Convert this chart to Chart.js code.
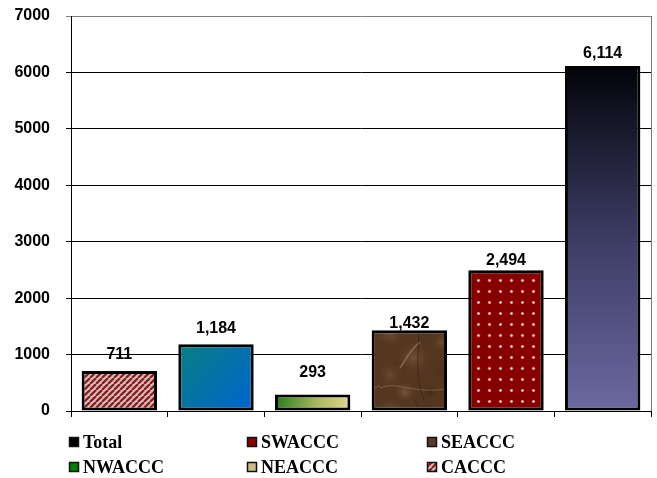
<!DOCTYPE html>
<html>
<head>
<meta charset="utf-8">
<script src="https://cdn.jsdelivr.net/npm/chart.js@4.4.0/dist/chart.umd.min.js"></script>
<style>
body { margin: 0; background: #fff; }
canvas { display: block; }
</style>
</head>
<body>
<canvas id="barChart" width="657" height="478"></canvas>
<script>
/* Data */
const regions = ["CACCC", "NEACCC", "NWACCC", "SEACCC", "SWACCC", "Total"];
const counts = [711, 1184, 293, 1432, 2494, 6114];
const yTicks = [0, 1000, 2000, 3000, 4000, 5000, 6000, 7000];
const legendOrder = ["Total", "SWACCC", "SEACCC", "NWACCC", "NEACCC", "CACCC"];

/* Styles */
const labelGap = [12, 11, 17, 2, 5, 8]; // label baseline distance above bar
const swatch = {
  Total: "#000000",
  SWACCC: "#8b0000",
  SEACCC: "#5a3b2a",
  NWACCC: "#008000",
  NEACCC: "#cbbd83",
};

// Patterns
function makeStripes() {
  const n = 6;
  const c = document.createElement("canvas");
  c.width = n; c.height = n;
  const g = c.getContext("2d");
  g.fillStyle = "#cdc7c7";
  g.fillRect(0, 0, n, n);
  g.strokeStyle = "#951a1a";
  g.lineWidth = 2.3;
  [0, n, 2 * n].forEach(function (s) {
    g.beginPath();
    g.moveTo(s - n, n);
    g.lineTo(s, 0);
    g.stroke();
  });
  return g.createPattern(c, "repeat");
}

function makeDots() {
  const c = document.createElement("canvas");
  c.width = 11; c.height = 11;
  const g = c.getContext("2d");
  g.fillStyle = "#870000";
  g.fillRect(0, 0, 11, 11);
  g.fillStyle = "rgba(255,180,180,0.45)";
  g.beginPath(); g.arc(5.5, 5.5, 1.8, 0, Math.PI * 2); g.fill();
  g.fillStyle = "#ffffff";
  g.beginPath(); g.arc(5.5, 5.5, 1, 0, Math.PI * 2); g.fill();
  return g.createPattern(c, "repeat");
}

function makeMarble() {
  const c = document.createElement("canvas");
  c.width = 76; c.height = 80;
  const g = c.getContext("2d");
  g.fillStyle = "#553720";
  g.fillRect(0, 0, 76, 80);
  const spots = [[10, 12, 16, "rgba(130,92,60,0.7)"], [45, 10, 14, "rgba(70,45,28,0.8)"],
    [34, 38, 18, "rgba(140,105,75,0.5)"], [60, 50, 14, "rgba(75,48,30,0.8)"],
    [10, 55, 14, "rgba(120,85,55,0.6)"], [25, 72, 12, "rgba(150,115,80,0.55)"],
    [62, 22, 10, "rgba(125,90,60,0.6)"], [50, 72, 10, "rgba(60,38,22,0.8)"]];
  spots.forEach(function (s) {
    const r = g.createRadialGradient(s[0], s[1], 0, s[0], s[1], s[2]);
    r.addColorStop(0, s[3]);
    r.addColorStop(1, "rgba(85,55,32,0)");
    g.fillStyle = r;
    g.fillRect(0, 0, 76, 80);
  });
  g.strokeStyle = "rgba(200,170,135,0.35)";
  g.lineWidth = 2;
  g.beginPath(); g.moveTo(20, 48); g.bezierCurveTo(28, 36, 30, 30, 40, 22); g.stroke();
  g.lineWidth = 1;
  g.beginPath(); g.moveTo(0, 68); g.bezierCurveTo(20, 60, 40, 78, 76, 66); g.stroke();
  g.strokeStyle = "rgba(40,25,15,0.5)";
  g.beginPath(); g.moveTo(35, 0); g.bezierCurveTo(45, 20, 30, 45, 44, 80); g.stroke();
  return g.createPattern(c, "repeat");
}

const stripePattern = makeStripes();
const dotPattern = makeDots();
const marblePattern = makeMarble();

function barFill(context) {
  const chart = context.chart;
  if (context.type !== "data" || !chart.chartArea) return "#888";
  const i = context.dataIndex;
  const x = chart.scales.x.getPixelForValue(i);
  const top = chart.scales.y.getPixelForValue(counts[i]);
  const base = chart.scales.y.getPixelForValue(0);
  const c = chart.ctx;
  let grad;
  switch (regions[i]) {
    case "CACCC": return stripePattern;
    case "SWACCC": return dotPattern;
    case "SEACCC": return marblePattern;
    case "NEACCC":
      grad = c.createLinearGradient(x - 38, top, x + 38, base);
      grad.addColorStop(0, "#078080");
      grad.addColorStop(1, "#0064d2");
      return grad;
    case "NWACCC":
      grad = c.createLinearGradient(x - 38, top, x + 38, base);
      grad.addColorStop(0, "#1f7a1a");
      grad.addColorStop(0.55, "#a8b860");
      grad.addColorStop(1, "#e6d890");
      return grad;
    default:
      grad = c.createLinearGradient(0, top, 0, base);
      grad.addColorStop(0, "#03030a");
      grad.addColorStop(0.5, "#3c3c64");
      grad.addColorStop(1, "#6a6aa2");
      return grad;
  }
}

/* Plugins */
const valueLabels = {
  id: "valueLabels",
  afterDatasetsDraw(chart) {
    const c = chart.ctx;
    const meta = chart.getDatasetMeta(0);
    c.save();
    c.font = "bold 16px 'Liberation Sans', Arial, sans-serif";
    c.fillStyle = "#000";
    c.textAlign = "center";
    c.textBaseline = "alphabetic";
    meta.data.forEach(function (bar, i) {
      c.fillText(counts[i].toLocaleString("en-US"), bar.x, bar.y - labelGap[i]);
    });
    c.restore();
  },
};

const frameAndLegend = {
  id: "frameAndLegend",
  afterDraw(chart) {
    const c = chart.ctx;
    const a = chart.chartArea;
    c.save();
    // right edge of the plot
    c.strokeStyle = "#777";
    c.lineWidth = 1;
    c.beginPath();
    c.moveTo(Math.round(a.right) + 0.5, a.top);
    c.lineTo(Math.round(a.right) + 0.5, a.bottom);
    c.stroke();

    // legend, 3 columns x 2 rows
    const colX = [69, 247, 427];
    const rowY = [442, 467];
    c.font = "bold 18px 'Liberation Serif', 'Times New Roman', serif";
    c.textBaseline = "middle";
    c.textAlign = "left";
    legendOrder.forEach(function (name, k) {
      const x = colX[k % 3];
      const y = rowY[Math.floor(k / 3)];
      c.fillStyle = name === "CACCC" ? stripePattern : swatch[name];
      c.fillRect(x, y - 5, 10, 10);
      c.strokeStyle = "#111";
      c.lineWidth = 1.5;
      c.strokeRect(x + 0.5, y - 4.5, 9, 9);
      c.fillStyle = "#000";
      c.fillText(name, x + 14, y + 1);
    });
    c.restore();
  },
};

// Bar Chart
const barCtx = document.getElementById("barChart").getContext("2d");
const barChart = new Chart(barCtx, {
  type: "bar",
  data: {
    labels: regions,
    datasets: [
      {
        data: counts,
        backgroundColor: barFill,
        borderColor: "#000",
        borderWidth: 3,
        borderSkipped: false,
        barPercentage: 0.78,
        categoryPercentage: 1,
      },
    ],
  },
  options: {
    responsive: false,
    animation: false,
    layout: { padding: { top: 16, right: 6, left: 0, bottom: 0 } },
    plugins: {
      legend: { display: false },
      tooltip: { enabled: false },
    },
    scales: {
      x: {
        offset: true,
        grid: { drawOnChartArea: false, drawTicks: true, tickLength: 6, color: "#000", offset: true },
        border: { color: "#000", width: 1 },
        ticks: { display: false },
        afterFit: (s) => { s.height = 67; },
      },
      y: {
        min: 0,
        max: 7000,
        afterBuildTicks: (s) => { s.ticks = yTicks.map((v) => ({ value: v })); },
        afterFit: (s) => {
          s.width = 71;
          s.paddingTop = 0; // let the layout padding alone set the top of the plot
          s.paddingBottom = 0;
        },
        grid: {
          color: (ctx) => (ctx.tick && ctx.tick.value === 7000 ? "#808080" : "#000"),
          tickLength: 5,
        },
        border: { color: "#000", width: 1 },
        ticks: {
          padding: 16,
          color: "#000",
          font: { family: "'Liberation Sans', Arial, sans-serif", size: 16, weight: "bold" },
          callback: (v) => String(v),
        },
      },
    },
  },
  plugins: [valueLabels, frameAndLegend],
});
</script>
</body>
</html>
